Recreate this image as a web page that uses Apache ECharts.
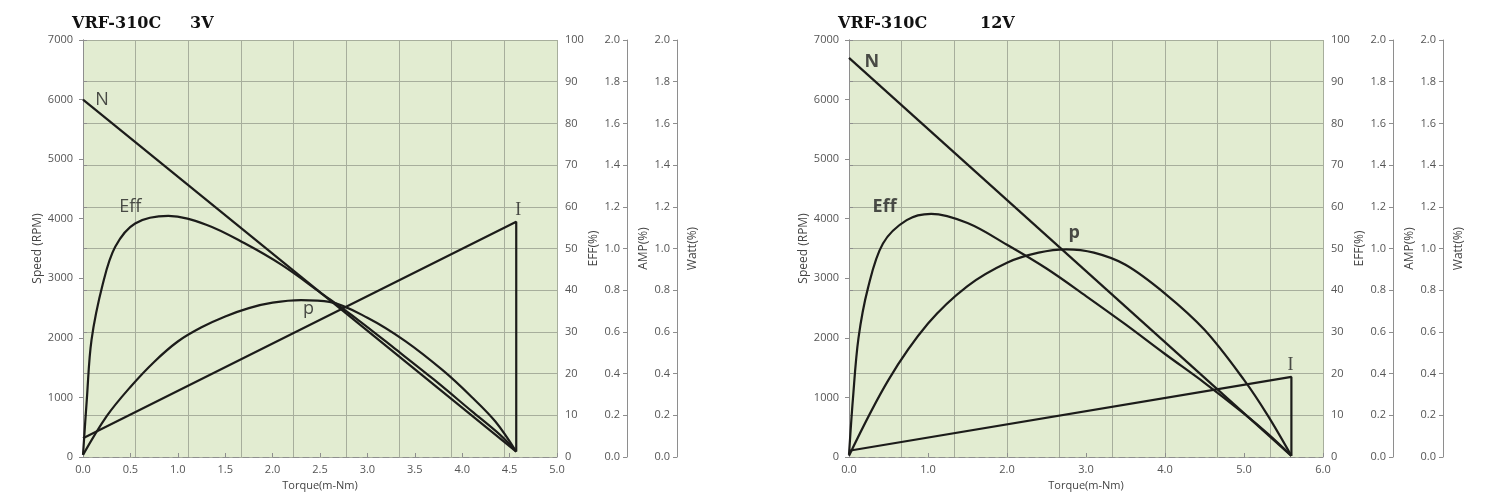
<!DOCTYPE html>
<html lang="en">
<head>
<meta charset="UTF-8">
<title>VRF-310C</title>
<script src="https://cdn.jsdelivr.net/npm/echarts@6.0.0/dist/echarts.min.js"></script>
<style>
	html,body{margin:0;height:100%;background:#fff;}
	#chart{width:1500px;height:503px;}
</style>
</head>
<body>
<div id="chart"></div>
<script>
	// ---- 3V panel (torque m-Nm on x) ----
	var speed3V = [[0, 6000], [4.57, 90]];                       // RPM
	var eff3V = [[0, 0.5], [0.04, 13.7], [0.09, 28.1], [0.21, 41.6], [0.34, 50.4], [0.55, 56.0],
		[0.9, 57.8], [1.3, 55.7], [1.7, 51.3], [2.1, 46.0], [2.5, 39.5], [2.9, 32.9],
		[3.3, 25.8], [3.7, 18.6], [4.1, 11.0], [4.4, 5.3], [4.57, 1.3]];   // %
	var amp3V = [[0, 0.09], [4.57, 1.128], [4.57, 0.026]];
	var watt3V = [[0, 0.01], [0.25, 0.196], [0.5, 0.336], [0.75, 0.456], [1.0, 0.554], [1.25, 0.622],
		[1.5, 0.674], [1.75, 0.714], [2.0, 0.74], [2.3, 0.752], [2.6, 0.744], [3.0, 0.668],
		[3.4, 0.556], [3.8, 0.414], [4.1, 0.288], [4.35, 0.17], [4.57, 0.026]];
	var tags3V = [[0.2, 6000, 'N'], [0.5, 4200, 'Eff'], [2.38, 2480, 'p'], [4.59, 4150, 'I']];

	// ---- 12V panel ----
	var speed12V = [[0, 6700], [5.6, 20]];
	var eff12V = [[0, 0.5], [0.05, 14.0], [0.12, 28.5], [0.24, 40.5], [0.43, 51.2], [0.73, 56.8],
		[1.04, 58.3], [1.5, 56.1], [2.0, 50.9], [2.5, 45.2], [3.0, 38.6], [3.5, 31.8],
		[4.0, 24.7], [4.5, 17.8], [5.0, 10.4], [5.3, 5.6], [5.6, 0.3]];
	var amp12V = [[0, 0.03], [5.6, 0.384], [5.6, 0.006]];
	var watt12V = [[0, 0.006], [0.5, 0.37], [1.0, 0.64], [1.5, 0.82], [2.0, 0.932], [2.4, 0.98],
		[2.75, 0.996], [3.1, 0.98], [3.5, 0.922], [4.0, 0.784], [4.5, 0.61], [5.0, 0.37],
		[5.3, 0.20], [5.6, 0.006]];
	var tags12V = [[0.29, 6630, 'N'], [0.45, 4200, 'Eff'], [2.85, 3760, 'p'], [5.59, 1545, 'I']];

	var titles = [['VRF-310C', '3V'], ['VRF-310C', '12V']];
	var gridCols = 9;     // background paper grid, not tied to torque ticks

	var INK = '#1c1c1a', GRIDLINE = '#a7ae9c', AXIS = '#8e8e8e', TXT = '#555';
	var SANS = 'Open Sans';

	var grid = [], xAxis = [], yAxis = [], series = [], title = [];

	function panel(k, left, xMax, xStep, d, bold){
		var xi = k * 2, yi = k * 4;
		grid.push({left: left, top: 40, width: 474, height: 417, show: true,
			backgroundColor: '#e2ecd1', borderWidth: 0});
		title.push({text: d.title[0], left: left - 11, top: 16, padding: 0,
			textStyle: {fontFamily: 'DejaVu Serif', fontWeight: 'bold', fontSize: 16, color: '#111'}});
		title.push({text: d.title[1], left: d.voltX, top: 16, padding: 0,
			textStyle: {fontFamily: 'DejaVu Serif', fontWeight: 'bold', fontSize: 16, color: '#111'}});

		var lbl = {color: TXT, fontSize: 11, fontFamily: SANS};
		var nm = {color: '#444', fontSize: 12, fontFamily: SANS};
		var oneDec = function(v){ return v.toFixed(1); };
		xAxis.push({gridIndex: k, type: 'value', min: 0, max: xMax, interval: xStep,
			name: 'Torque(m-Nm)', nameLocation: 'middle', nameGap: 22,
			nameTextStyle: {color: '#444', fontSize: 11, fontFamily: SANS},
			axisLine: {show: true, lineStyle: {color: AXIS, type: [6, 4]}},
			axisTick: {show: true, inside: true, length: 4, lineStyle: {color: AXIS}},
			axisLabel: Object.assign({margin: 7, formatter: oneDec}, lbl),
			splitLine: {show: false}});
		xAxis.push({gridIndex: k, type: 'value', min: 0, max: gridCols, interval: 1, position: 'top',
			axisLine: {show: false}, axisTick: {show: false}, axisLabel: {show: false},
			splitLine: {show: true, lineStyle: {color: GRIDLINE, width: 1}}});

		yAxis.push({gridIndex: k, type: 'value', position: 'left', min: 0, max: 7000, interval: 1000,
			name: 'Speed (RPM)', nameLocation: 'middle', nameGap: 34, nameRotate: 90, nameTextStyle: nm,
			axisLine: {show: true, lineStyle: {color: AXIS}},
			axisTick: {show: true, length: 4, lineStyle: {color: AXIS}},
			axisLabel: Object.assign({margin: 10, formatter: function(v){ return String(v); }}, lbl),
			splitLine: {show: false}});
		yAxis.push({gridIndex: k, type: 'value', position: 'right', min: 0, max: 100, interval: 10,
			name: 'EFF(%)', nameLocation: 'middle', nameGap: 25, nameRotate: 90, nameTextStyle: nm,
			axisLine: {show: true, lineStyle: {color: AXIS}},
			axisTick: {show: true, length: 4, lineStyle: {color: AXIS}},
			axisLabel: Object.assign({margin: 8}, lbl),
			splitLine: {show: true, lineStyle: {color: GRIDLINE, width: 1}}});
		[['AMP(%)', 70, 11], ['Watt(%)', 120, 10]].forEach(function(a){
			yAxis.push({gridIndex: k, type: 'value', position: 'right', offset: a[1],
				min: 0, max: 2, interval: 0.2,
				name: a[0], nameLocation: 'middle', nameGap: a[2], nameRotate: 90, nameTextStyle: nm,
				axisLine: {show: true, lineStyle: {color: AXIS}},
				axisTick: {show: true, inside: true, length: 4, lineStyle: {color: AXIS}},
				axisLabel: Object.assign({inside: true, margin: 7, formatter: oneDec}, lbl),
				splitLine: {show: false}});
		});

		var line = {type: 'line', xAxisIndex: xi, showSymbol: false, silent: true,
			lineStyle: {color: INK, width: 2.2}};
		series.push(Object.assign({}, line, {name: 'N', yAxisIndex: yi, data: d.speed}));
		series.push(Object.assign({}, line, {name: 'Eff', yAxisIndex: yi + 1, data: d.eff, smooth: 0.35}));
		series.push(Object.assign({}, line, {name: 'I', yAxisIndex: yi + 2, data: d.amp}));
		series.push(Object.assign({}, line, {name: 'P', yAxisIndex: yi + 3, data: d.watt, smooth: 0.35}));
		series.push({type: 'scatter', xAxisIndex: xi, yAxisIndex: yi, silent: true, symbolSize: 1,
			itemStyle: {color: 'rgba(0,0,0,0)'},
			data: d.tags.map(function(t){
				var serif = t[2] === 'I';
				return {value: t, label: {show: true, position: 'inside', formatter: t[2], color: '#222',
					fontFamily: serif ? 'Liberation Serif' : SANS,
					fontWeight: (bold && !serif) ? 'bold' : 'normal',
					fontSize: 18}};
			})});
	}

	panel(0, 83, 5, 0.5, {speed: speed3V, eff: eff3V, amp: amp3V, watt: watt3V, tags: tags3V,
		title: titles[0], voltX: 190}, false);
	panel(1, 849, 6, 1, {speed: speed12V, eff: eff12V, amp: amp12V, watt: watt12V, tags: tags12V,
		title: titles[1], voltX: 980}, true);

	var myChart = echarts.init(document.getElementById('chart'));
	myChart.setOption({
		animation: false,
		backgroundColor: '#fff',
		title: title,
		grid: grid,
		xAxis: xAxis,
		yAxis: yAxis,
		series: series
	});
</script>
</body>
</html>
